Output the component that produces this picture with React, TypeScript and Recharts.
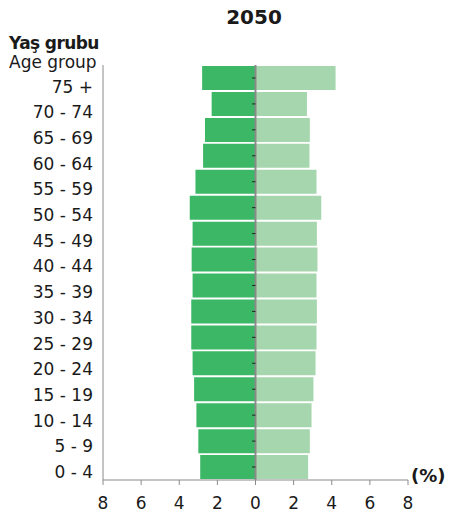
import React from "react";
import {
  BarChart,
  Bar,
  XAxis,
  YAxis,
  ReferenceLine,
} from "recharts";

const ageGroups = [
  "75 +", "70 - 74", "65 - 69", "60 - 64", "55 - 59", "50 - 54", "45 - 49", "40 - 44",
  "35 - 39", "30 - 34", "25 - 29", "20 - 24", "15 - 19", "10 - 14", "5 - 9", "0 - 4",
];
const male = [2.8, 2.3, 2.65, 2.75, 3.15, 3.45, 3.3, 3.35, 3.3, 3.37, 3.37, 3.3, 3.22, 3.1, 3.0, 2.9];
const female = [4.2, 2.7, 2.85, 2.83, 3.2, 3.45, 3.22, 3.25, 3.2, 3.22, 3.2, 3.15, 3.04, 2.94, 2.85, 2.76];
const xTicks = [-8, -6, -4, -2, 0, 2, 4, 6, 8];

const font = "'DejaVu Sans', Verdana, sans-serif";
const darkGreen = "#3cb766";
const lightGreen = "#a6d6ae";
const axisGray = "#8a8a8a";

const data = ageGroups.map((g, i) => ({ group: g, male: -male[i], female: female[i] }));

// age labels sit a little below the bar centres in the original
const AgeTick = (props: any) => {
  const { x, y, payload, index } = props;
  const shift = 8.5 - (index * 3.5) / 15;
  return (
    <text x={x} y={y + shift} dy="0.355em" textAnchor="end" fontSize={17} fill="#1a1a1a" fontFamily={font}>
      {payload.value}
    </text>
  );
};

export default function App() {
  return (
    <div style={{ position: "absolute", left: 0, top: 0, width: 453, height: 515, fontFamily: font, color: "#1a1a1a" }}>
      <div style={{ position: "absolute", left: 0, width: 508, top: 5, textAlign: "center", fontWeight: "bold", fontSize: 20 }}>
        2050
      </div>
      <div style={{ position: "absolute", left: 9, top: 34, lineHeight: "18px", fontWeight: "bold", fontSize: 17, letterSpacing: -0.6 }}>
        Yaş grubu
      </div>
      <div style={{ position: "absolute", left: 9, top: 53, lineHeight: "18px", fontSize: 17 }}>Age group</div>
      <div style={{ position: "absolute", left: 411, top: 465, fontWeight: "bold", fontSize: 18 }}>(%)</div>
      <BarChart
        width={453}
        height={515}
        data={data}
        layout="vertical"
        stackOffset="sign"
        barCategoryGap={1}
        margin={{ top: 65, right: 45, bottom: 5, left: 0 }}
      >
        <XAxis
          type="number"
          domain={[-8, 8]}
          ticks={xTicks}
          tickFormatter={(v) => String(Math.abs(v))}
          tick={{ fontSize: 17, fill: "#1a1a1a", fontFamily: font }}
          stroke={axisGray}
          tickSize={5}
          tickMargin={12}
        />
        <YAxis
          type="category"
          dataKey="group"
          width={103}
          tick={<AgeTick />}
          tickLine={false}
          stroke={axisGray}
          tickMargin={4}
        />
        <Bar dataKey="male" stackId="a" fill={darkGreen} isAnimationActive={false} />
        <Bar dataKey="female" stackId="a" fill={lightGreen} isAnimationActive={false} />
        <ReferenceLine x={0} stroke={axisGray} strokeWidth={2} />
        {ageGroups.map((g) => (
          <ReferenceLine
            key={g}
            segment={[{ x: -0.18, y: g }, { x: 0, y: g }]}
            stroke="#222"
            strokeWidth={1}
          />
        ))}
      </BarChart>
    </div>
  );
}
